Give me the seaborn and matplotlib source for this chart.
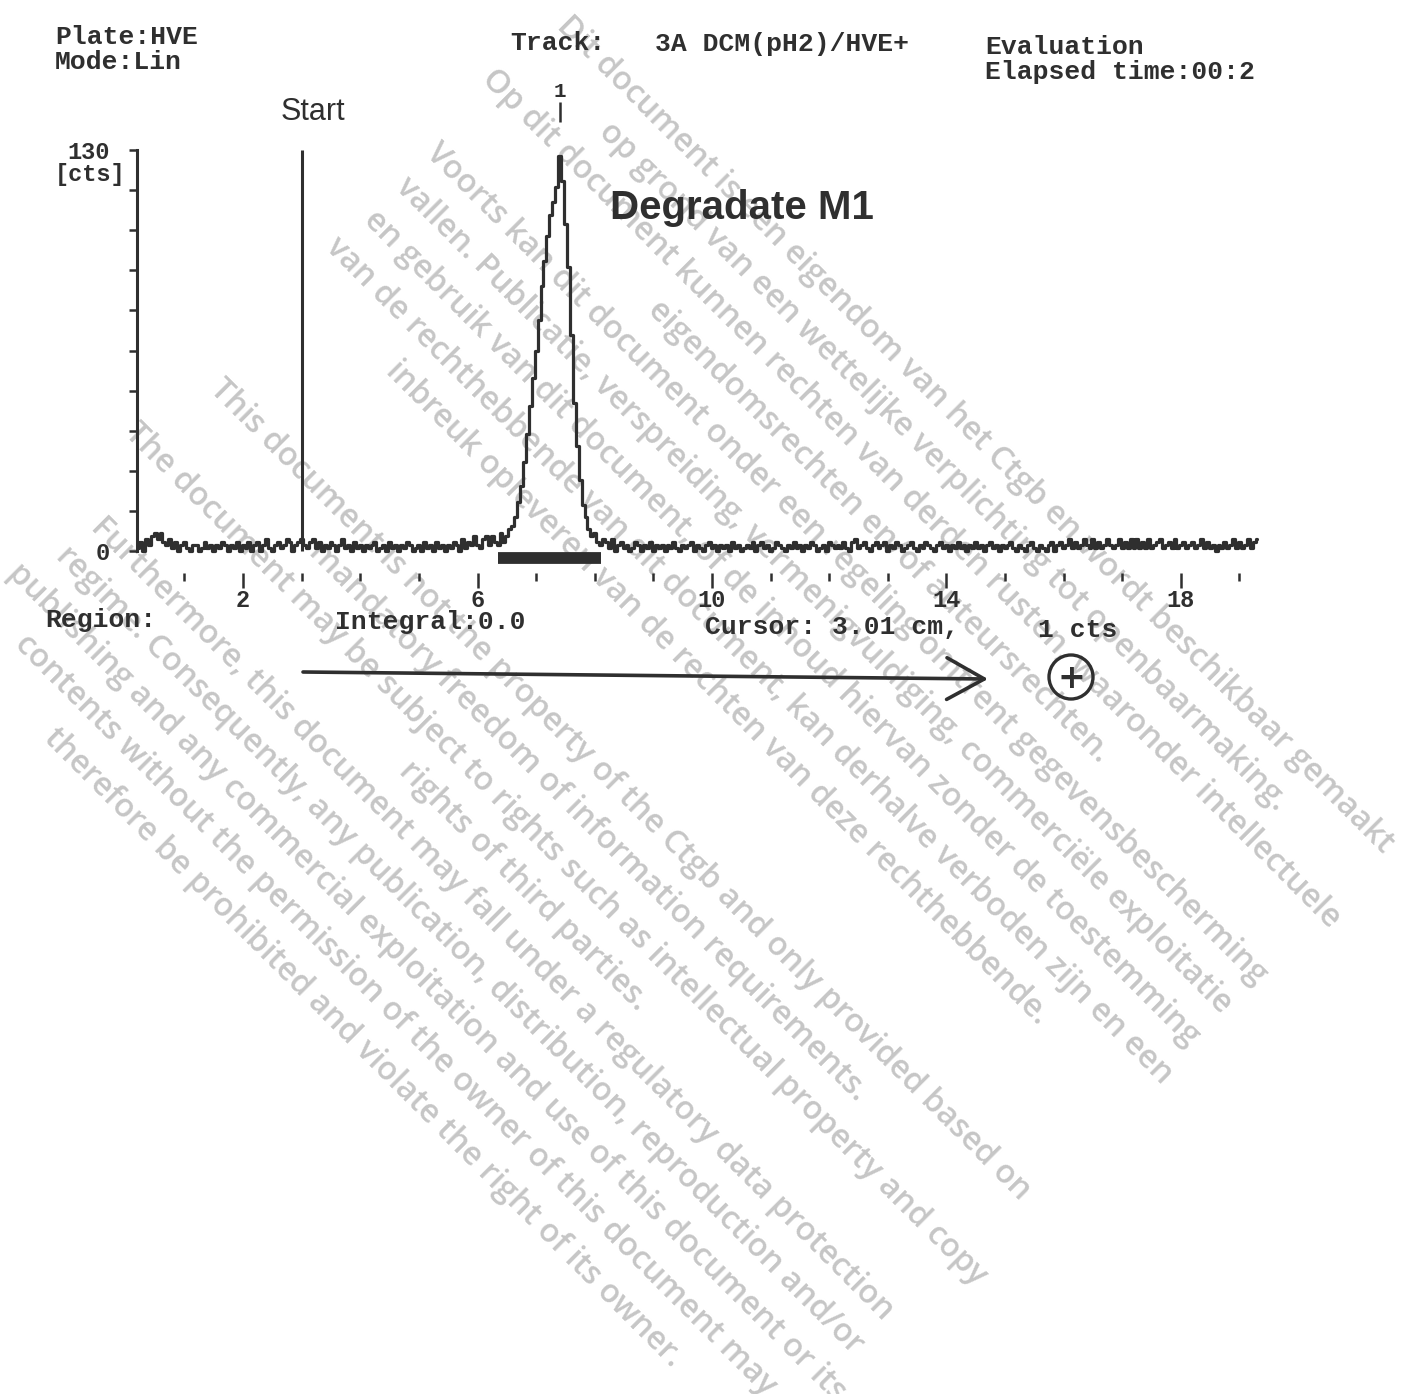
import numpy as np
import pandas as pd
import matplotlib
matplotlib.use("Agg")
import matplotlib.pyplot as plt
import seaborn as sns
from matplotlib.patches import FancyArrowPatch, Ellipse
from matplotlib.ticker import FixedLocator

# ---- radio-TLC scan, track 3A: counts per 0.05 cm channel from 0.20 cm ----
scan_start_cm = 0.20
channel_cm = 0.05
counts = [
    1, 3, 0, 4, 2, 5, 6, 4, 6, 3, 2, 4, 1, 3, 0, 2, 3, 1, 0, 2,
    2, 0, 1, 3, 1, 2, 0, 2, 1, 3, 2, 0, 2, 1, 3, 0, 2, 1, 3, 0,
    2, 3, 0, 2, 4, 1, 0, 2, 3, 1, 2, 4, 3, 0, 2, 3, 4, 2, 1, 3,
    4, 1, 3, 0, 2, 1, 3, 2, 0, 2, 4, 1, 2, 0, 3, 1, 2, 0, 2, 1,
    2, 3, 0, 1, 2, 0, 3, 1, 2, 0, 2, 1, 3, 2, 0, 1, 2, 0, 3, 1,
    2, 0, 3, 1, 2, 0, 2, 1, 3, 2, 0, 4, 1, 3, 2, 5, 2, 1, 4, 5,
    2, 5, 3, 2, 6, 3, 5, 7, 8, 11, 16, 21, 29, 38, 47, 56, 65, 75, 86, 94,
    102, 109, 113, 118, 128, 120, 106, 92, 70, 48, 34, 23, 15, 11, 7, 5, 6, 3, 2, 4,
    3, 1, 4, 0, 2, 3, 1, 2, 0, 1, 3, 2, 0, 2, 1, 3, 0, 2, 1, 2,
    0, 2, 1, 3, 1, 0, 2, 1, 2, 3, 0, 2, 1, 0, 2, 3, 1, 2, 0, 2,
    1, 2, 0, 3, 1, 2, 0, 1, 2, 1, 3, 0, 2, 3, 1, 2, 0, 1, 3, 2,
    1, 0, 2, 1, 3, 1, 2, 0, 2, 1, 3, 2, 0, 1, 2, 0, 3, 2, 1, 2,
    1, 3, 1, 0, 3, 4, 1, 2, 3, 1, 0, 2, 3, 1, 2, 3, 0, 2, 1, 3,
    2, 0, 1, 2, 3, 1, 0, 2, 1, 3, 2, 1, 0, 2, 3, 1, 2, 0, 2, 1,
    3, 1, 2, 0, 2, 1, 3, 1, 2, 0, 2, 3, 1, 2, 0, 2, 1, 2, 3, 1,
    0, 2, 1, 0, 2, 3, 1, 0, 2, 1, 0, 2, 3, 0, 2, 3, 1, 2, 4, 1,
    3, 1, 2, 4, 2, 1, 4, 1, 3, 1, 2, 4, 2, 1, 2, 4, 1, 3, 1, 4,
    1, 4, 1, 3, 1, 4, 1, 2, 3, 4, 1, 2, 3, 1, 4, 1, 2, 3, 1, 2,
    3, 1, 2, 4, 1, 3, 1, 2, 0, 2, 1, 3, 1, 2, 4, 1, 3, 1, 2, 4,
    1, 3, 4,
]
rf_cm = scan_start_cm + channel_cm * np.arange(len(counts))

start_cm = 3.01                 # application line / cursor position
region_cm = [6.35, 8.10]        # integration region of peak 1
peak_label = "1"
y_ticks = list(range(0, 131, 13))
y_ticklabels = ["0"] + [""] * 9 + ["130"]
x_major = [2, 6, 10, 14, 18]
x_minor = list(range(1, 20))

header_left = ["Plate:HVE", "Mode:Lin"]
track_label = "Track:"
track_name = "3A DCM(pH2)/HVE+"
header_right = ["Evaluation", "Elapsed time:00:2"]
footer = ["Region:", "Integral:0.0", "Cursor: 3.01 cm,", "1 cts"]
title = "Degradate M1"

notice_nl = [
    "Dit document is een eigendom van het Ctgb en wordt beschikbaar gemaakt",
    "op grond van een wettelijke verplichting tot openbaarmaking.",
    "Op dit document kunnen rechten van derden rusten, waaronder intellectuele",
    "eigendomsrechten en/of auteursrechten.",
    "Voorts kan dit document onder een regeling omtrent gegevensbescherming",
    "vallen. Publicatie, verspreiding, vermenigvuldiging, commerciële exploitatie",
    "en gebruik van dit document, of de inhoud hiervan zonder de toestemming",
    "van de rechthebbende van dit document, kan derhalve verboden zijn en een",
    "inbreuk opleveren van de rechten van deze rechthebbende.",
]
notice_en = [
    "This document is not the property of the Ctgb and only provided based on",
    "mandatory freedom of information requirements.",
    "The document may be subject to rights such as intellectual property and copy",
    "rights of third parties.",
    "Furthermore, this document may fall under a regulatory data protection",
    "regime. Consequently, any publication, distribution, reproduction and/or",
    "publishing and any commercial exploitation and use of this document or its",
    "contents without the permission of the owner of this document may",
    "therefore be prohibited and violate the right of its owner.",
]

# ---- styling ----
sns.set_theme(style="white")
plt.rcParams["font.family"] = ["Liberation Mono", "DejaVu Sans Mono"]
plt.rcParams["font.weight"] = "bold"
INK = "#2f2f2f"
SANS = ["Liberation Sans", "DejaVu Sans"]

W, H = 1401, 1394
fig = plt.figure(figsize=(W / 100, H / 100), dpi=100)
fig.patch.set_facecolor("white")


def fx(px):
    return px / W


def fy(py):
    return 1 - py / H


# ---- notice printed diagonally across the page ----
notice = notice_nl + ["", ""] + notice_en
cx, cy = 669, 741
step = 45.6
for i, line in enumerate(notice):
    if not line:
        continue
    off = (i - (len(notice) - 1) / 2) * step
    px = cx - off * 0.7071
    py = cy + off * 0.7071
    fig.text(fx(px), fy(py), line, rotation=-45, rotation_mode="anchor",
             ha="center", va="center", fontsize=23.2, color="#c6c6c6",
             family=["Open Sans", "DejaVu Sans"], fontweight="semibold", zorder=0)

# ---- scan trace ----
ax = fig.add_axes([fx(137), fy(569.6), (1260 - 137) / W, 419.6 / H])
ax.set_zorder(2)
ax.patch.set_alpha(0)
ax.set_xlim(0.19, 19.35)
ax.set_ylim(-6, 130)

df = pd.DataFrame({"rf": rf_cm, "cts": counts})
sns.lineplot(data=df, x="rf", y="cts", ax=ax, color=INK, lw=2.3,
             drawstyle="steps-mid", estimator=None)
ax.set_xlabel("")
ax.set_ylabel("")

ax.vlines(start_cm, 0, 130, color=INK, lw=2.2)
ax.hlines(-2.2, region_cm[0], region_cm[1], color=INK, lw=8.5, capstyle="butt")

peak_rf = rf_cm[int(np.argmax(counts))]
ax.vlines(peak_rf, 139, 145.5, color=INK, lw=1.8, clip_on=False)
ax.text(peak_rf, 148.8, peak_label, ha="center", va="center", fontsize=15,
        color=INK, clip_on=False)

for s in ["top", "right"]:
    ax.spines[s].set_visible(False)
ax.spines["left"].set_bounds(0, 130)
ax.spines["left"].set_linewidth(2.2)
ax.spines["left"].set_color(INK)
ax.spines["bottom"].set_position(("outward", 2.5))
ax.spines["bottom"].set_visible(False)

ax.xaxis.set_major_locator(FixedLocator(x_major))
ax.xaxis.set_minor_locator(FixedLocator(x_minor))
ax.set_xticklabels([str(v) for v in x_major])
ax.tick_params(axis="x", which="major", direction="out", length=10.5, width=1.8,
               pad=1, labelsize=17, colors=INK, bottom=True)
ax.tick_params(axis="x", which="minor", direction="out", length=6, width=1.8,
               colors=INK, bottom=True)
ax.set_yticks(y_ticks)
ax.set_yticklabels(y_ticklabels)
ax.tick_params(axis="y", direction="out", length=5.8, width=1.8, pad=14,
               labelsize=17, colors=INK, left=True)

# ---- header and footer texts ----
mono = dict(fontsize=19, color=INK, ha="left", va="center")
fig.text(fx(55), fy(37), header_left[0], **mono)
fig.text(fx(55), fy(62), header_left[1], **mono)
fig.text(fx(510), fy(43), track_label, **mono)
fig.text(fx(655), fy(44), track_name, **mono)
fig.text(fx(985), fy(47), header_right[0], **mono)
fig.text(fx(985), fy(72), header_right[1], **mono)
fig.text(fx(55), fy(174), "[cts]", fontsize=17, color=INK, ha="left", va="center")
fig.text(fx(45), fy(620), footer[0], **mono)
fig.text(fx(335), fy(622), footer[1], **mono)
fig.text(fx(705), fy(627), footer[2], **mono)
fig.text(fx(1038), fy(630), footer[3], **mono)

fig.text(fx(313), fy(112), "Start", ha="center", va="center", fontsize=22,
         family=SANS, fontweight="normal", color=INK)
fig.text(fx(610), fy(208), title, ha="left", va="center", fontsize=29,
         family=SANS, fontweight="bold", color=INK)

# ---- development direction arrow and polarity mark ----
arrow = FancyArrowPatch((fx(303), fy(672)), (fx(988), fy(679)),
                        transform=fig.transFigure,
                        arrowstyle="->,head_length=27,head_width=15",
                        mutation_scale=1, lw=2.6, color=INK,
                        shrinkA=0, shrinkB=0)
fig.add_artist(arrow)
fig.add_artist(Ellipse((fx(1071), fy(677)), 44 / W, 44 / H,
                       transform=fig.transFigure, fill=False, lw=2.4,
                       edgecolor=INK))
fig.text(fx(1071), fy(678), "+", ha="center", va="center", fontsize=24,
         family=["DejaVu Sans"], fontweight="bold", color=INK)

fig.savefig("out.png", dpi=100)
